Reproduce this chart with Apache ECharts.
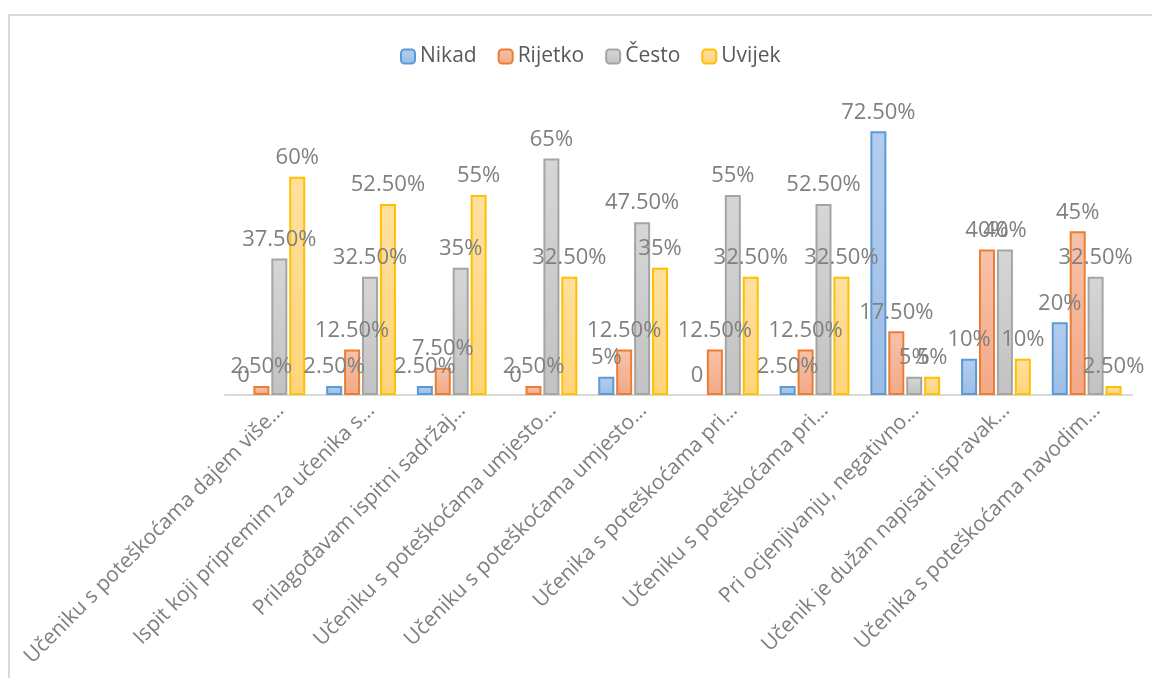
<!DOCTYPE html>
<html>
<head>
<meta charset="utf-8">
<script src="https://cdn.jsdelivr.net/npm/echarts@6/dist/echarts.min.js"></script>
<style>
  html, body { margin: 0; padding: 0; background: #fff; }
  #chart { width: 1152px; height: 678px; }
</style>
</head>
<body>
<div id="chart"></div>
<script>
const categories = [
  "Učeniku s poteškoćama dajem više…",
  "Ispit koji pripremim za učenika s…",
  "Prilagođavam ispitni sadržaj…",
  "Učeniku s poteškoćama umjesto…",
  "Učeniku s poteškoćama umjesto…",
  "Učenika s poteškoćama pri…",
  "Učeniku s poteškoćama pri…",
  "Pri ocjenjivanju, negativno…",
  "Učenik je dužan napisati ispravak…",
  "Učenika s poteškoćama navodim…"
];
const nikad = [0, 2.5, 2.5, 0, 5, 0, 2.5, 72.5, 10, 20];
const rijetko = [2.5, 12.5, 7.5, 2.5, 12.5, 12.5, 12.5, 17.5, 40, 45];
const cesto = [37.5, 32.5, 35, 65, 47.5, 55, 52.5, 5, 40, 32.5];
const uvijek = [60, 52.5, 55, 32.5, 35, 32.5, 32.5, 5, 10, 2.5];

const chart = echarts.init(document.getElementById("chart"));

// Excel-style labels: 0 -> "0", 60 -> "60%", 37.5 -> "37.50%"
function fmt(p) {
  const v = p.value;
  if (v === 0) return "0";
  return Number.isInteger(v) ? v + "%" : v.toFixed(2) + "%";
}

function grad(top, bottom) {
  return new echarts.graphic.LinearGradient(0, 0, 0, 1, [
    { offset: 0, color: top },
    { offset: 1, color: bottom },
  ]);
}

function bar(name, data, fillTop, fillBottom, border) {
  return {
    name: name,
    type: "bar",
    // zero bars: no outline, only the "0" label
    data: data.map((v) => (v === 0 ? { value: v, itemStyle: { borderWidth: 0 } } : v)),
    barWidth: 16,
    barGap: "12%",
    itemStyle: { color: grad(fillTop, fillBottom), borderColor: border, borderWidth: 2 },
    label: {
      show: true,
      position: "top",
      distance: 8,
      formatter: fmt,
      color: "#808080",
      fontSize: 22,
      fontFamily: "Open Sans",
    },
  };
}

const option = {
  animation: false,
  backgroundColor: "#fff",
  graphic: [
    {
      type: "rect",
      shape: { x: 9, y: 15, width: 1200, height: 700 },
      style: { fill: "none", stroke: "#d9d9d9", lineWidth: 2 },
      silent: true,
    },
  ],
  legend: {
    top: 41,
    left: 395,
    itemWidth: 14,
    itemHeight: 14,
    itemGap: 21,
    textStyle: { color: "#595959", fontSize: 21, fontFamily: "Open Sans" },
    data: ["Nikad", "Rijetko", "Često", "Uvijek"],
  },
  grid: { left: 225, right: 20, top: 104, bottom: 283 },
  xAxis: {
    type: "category",
    data: categories,
    axisLine: { lineStyle: { color: "#d9d9d9", width: 2 } },
    axisTick: { show: false },
    axisLabel: {
      rotate: 45,
      interval: 0,
      margin: 2,
      verticalAlign: "top",
      padding: [4, 0, 0, 0],
      color: "#7f7f7f",
      fontSize: 21,
      fontFamily: "Open Sans",
    },
  },
  yAxis: {
    type: "value",
    min: 0,
    max: 80,
    show: false,
    splitLine: { show: false },
  },
  series: [
    bar("Nikad", nikad, "#b4cdee", "#9dbde6", "#5b9bd5"),
    bar("Rijetko", rijetko, "#f7c2aa", "#f2a987", "#ed7d31"),
    bar("Često", cesto, "#d6d6d6", "#c2c2c2", "#a5a5a5"),
    bar("Uvijek", uvijek, "#ffe0a0", "#ffd47a", "#ffc000"),
  ],
};

chart.setOption(option);
</script>
</body>
</html>
